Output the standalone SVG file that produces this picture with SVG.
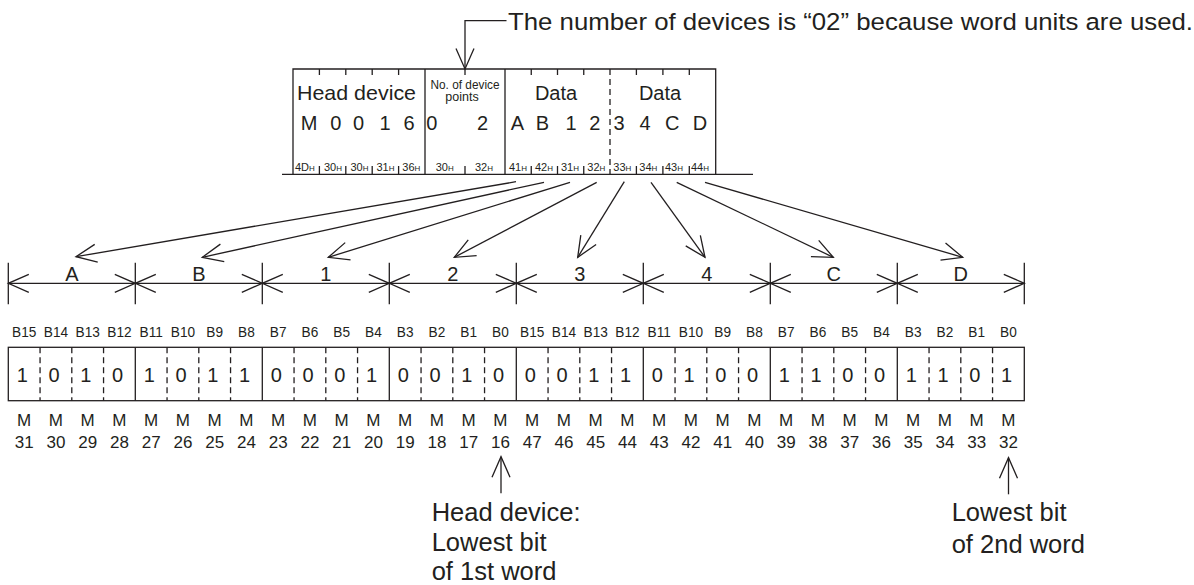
<svg xmlns="http://www.w3.org/2000/svg" width="1194" height="585" viewBox="0 0 1194 585">
<style>
.ln{stroke:#231f20;stroke-width:1.3;fill:none}
.dash{stroke-dasharray:6 4}
text{font-family:"Liberation Sans",Arial,Helvetica,sans-serif;fill:#231f20}
.t20{font-size:20px}
.hx{font-size:11px}
.hx tspan{font-size:8px}
.mid{text-anchor:middle}
.bl{font-size:15.5px;text-anchor:middle}
.dg{font-size:20px;text-anchor:middle}
.ml{font-size:17px;text-anchor:middle}
.note{font-size:25.5px}
</style>
<defs>
<marker id="ah" viewBox="-23 -11 25 22" refX="0" refY="0" markerWidth="25" markerHeight="22" markerUnits="userSpaceOnUse" orient="auto-start-reverse">
<path d="M-20.5,-9 L0,0 L-20.5,9" fill="none" stroke="#231f20" stroke-width="1.3"/>
</marker>
</defs>
<rect width="1194" height="585" fill="#ffffff"/>

<g id="annotation">
<text x="508" y="30" font-size="24.5" textLength="685" lengthAdjust="spacingAndGlyphs">The number of devices is “02” because word units are used.</text>
</g>

<g id="frame">
<line class="ln" x1="282" y1="174.3" x2="753" y2="174.3"/>
<path class="ln" d="M293,174.3V69H715.7V174.3M425,69V174.3M505,69V174.3"/>
<path class="ln dash" d="M610,69V174.3"/>
<path class="ln" d="M319.4,69v6M345.8,69v6M372.2,69v6M398.6,69v6M465,69v6M531.25,69v6M557.5,69v6M583.75,69v6M636.4,69v6M662.9,69v6M689.3,69v6"/>
<path class="ln" d="M319.4,166v8M345.8,166v8M372.2,166v8M398.6,166v8M465,166v8M531.25,166v8M557.5,166v8M583.75,166v8M636.4,166v8M662.9,166v8M689.3,166v8"/>
<text x="297" y="100" font-size="21" textLength="119" lengthAdjust="spacingAndGlyphs">Head device</text>
<text x="465" y="88.5" font-size="12.5" class="mid" textLength="69" lengthAdjust="spacingAndGlyphs">No. of device</text>
<text x="462" y="101" font-size="12.5" class="mid">points</text>
<text x="556" y="100" class="t20 mid">Data</text>
<text x="660" y="100" class="t20 mid">Data</text>
<g class="t20 mid">
<text x="309" y="130">M</text><text x="335.7" y="130">0</text><text x="358.5" y="130">0</text><text x="385" y="130">1</text><text x="409" y="130">6</text>
<text x="431.7" y="130">0</text><text x="482.5" y="130">2</text>
<text x="517.3" y="130">A</text><text x="542.3" y="130">B</text><text x="571" y="130">1</text><text x="594.7" y="130">2</text>
<text x="619" y="130">3</text><text x="645" y="130">4</text><text x="672.3" y="130">C</text><text x="700" y="130">D</text>
</g>
<g class="hx">
<text x="295" y="170.5">4D<tspan>H</tspan></text>
<text x="324" y="170.5">30<tspan>H</tspan></text>
<text x="350.5" y="170.5">30<tspan>H</tspan></text>
<text x="376.5" y="170.5">31<tspan>H</tspan></text>
<text x="402.3" y="170.5">36<tspan>H</tspan></text>
<text x="435.7" y="170.5">30<tspan>H</tspan></text>
<text x="475" y="170.5">32<tspan>H</tspan></text>
<text x="509" y="170.5">41<tspan>H</tspan></text>
<text x="535" y="170.5">42<tspan>H</tspan></text>
<text x="561" y="170.5">31<tspan>H</tspan></text>
<text x="587.3" y="170.5">32<tspan>H</tspan></text>
<text x="613.3" y="170.5">33<tspan>H</tspan></text>
<text x="639.3" y="170.5">34<tspan>H</tspan></text>
<text x="665" y="170.5">43<tspan>H</tspan></text>
<text x="691" y="170.5">44<tspan>H</tspan></text>
</g>
</g>

<g id="dimension">
<path class="ln" d="M8.3,262.7V304.3M135.3,262.7V304.3M262.3,262.7V304.3M389.3,262.7V304.3M516.3,262.7V304.3M643.3,262.7V304.3M770.3,262.7V304.3M897.3,262.7V304.3M1024.3,262.7V304.3"/>
<g class="ln" marker-start="url(#ah)" marker-end="url(#ah)">
<line x1="8.3" y1="283.3" x2="135.3" y2="283.3"/>
<line x1="135.3" y1="283.3" x2="262.3" y2="283.3"/>
<line x1="262.3" y1="283.3" x2="389.3" y2="283.3"/>
<line x1="389.3" y1="283.3" x2="516.3" y2="283.3"/>
<line x1="516.3" y1="283.3" x2="643.3" y2="283.3"/>
<line x1="643.3" y1="283.3" x2="770.3" y2="283.3"/>
<line x1="770.3" y1="283.3" x2="897.3" y2="283.3"/>
<line x1="897.3" y1="283.3" x2="1024.3" y2="283.3"/>
</g>
<g class="t20 mid">
<text x="71.8" y="280.7">A</text><text x="198.8" y="280.7">B</text><text x="325.8" y="280.7">1</text><text x="452.8" y="280.7">2</text>
<text x="579.8" y="280.7">3</text><text x="706.8" y="280.7">4</text><text x="833.8" y="280.7">C</text><text x="960.8" y="280.7">D</text>
</g>
</g>

<g id="bitlabels" transform="scale(0.88,1)" class="bl">
<text x="27.47" y="337.3">B15</text><text x="63.56" y="337.3">B14</text><text x="99.64" y="337.3">B13</text><text x="135.72" y="337.3">B12</text>
<text x="171.80" y="337.3">B11</text><text x="207.88" y="337.3">B10</text><text x="243.95" y="337.3">B9</text><text x="280.03" y="337.3">B8</text>
<text x="316.11" y="337.3">B7</text><text x="352.19" y="337.3">B6</text><text x="388.27" y="337.3">B5</text><text x="424.35" y="337.3">B4</text>
<text x="460.43" y="337.3">B3</text><text x="496.51" y="337.3">B2</text><text x="532.59" y="337.3">B1</text><text x="568.67" y="337.3">B0</text>
<text x="604.75" y="337.3">B15</text><text x="640.83" y="337.3">B14</text><text x="676.91" y="337.3">B13</text><text x="712.99" y="337.3">B12</text>
<text x="749.07" y="337.3">B11</text><text x="785.15" y="337.3">B10</text><text x="821.23" y="337.3">B9</text><text x="857.31" y="337.3">B8</text>
<text x="893.39" y="337.3">B7</text><text x="929.47" y="337.3">B6</text><text x="965.55" y="337.3">B5</text><text x="1001.63" y="337.3">B4</text>
<text x="1037.70" y="337.3">B3</text><text x="1073.78" y="337.3">B2</text><text x="1109.86" y="337.3">B1</text><text x="1145.94" y="337.3">B0</text>
</g>

<g id="bits">
<rect class="ln" x="8.3" y="347.3" width="1016" height="53.4"/>
<path class="ln" d="M135.3,347.3V400.7M262.3,347.3V400.7M389.3,347.3V400.7M516.3,347.3V400.7M643.3,347.3V400.7M770.3,347.3V400.7M897.3,347.3V400.7"/>
<path class="ln dash" d="M40.05,347.3V400.7M71.8,347.3V400.7M103.55,347.3V400.7M167.05,347.3V400.7M198.8,347.3V400.7M230.55,347.3V400.7M294.05,347.3V400.7M325.8,347.3V400.7M357.55,347.3V400.7M421.05,347.3V400.7M452.8,347.3V400.7M484.55,347.3V400.7M548.05,347.3V400.7M579.8,347.3V400.7M611.55,347.3V400.7M675.05,347.3V400.7M706.8,347.3V400.7M738.55,347.3V400.7M802.05,347.3V400.7M833.8,347.3V400.7M865.55,347.3V400.7M929.05,347.3V400.7M960.8,347.3V400.7M992.55,347.3V400.7"/>
<g class="dg">
<text x="22.4" y="381.5">1</text><text x="54.1" y="381.5">0</text><text x="85.9" y="381.5">1</text><text x="117.6" y="381.5">0</text>
<text x="149.4" y="381.5">1</text><text x="181.1" y="381.5">0</text><text x="212.9" y="381.5">1</text><text x="244.6" y="381.5">1</text>
<text x="276.4" y="381.5">0</text><text x="308.1" y="381.5">0</text><text x="339.9" y="381.5">0</text><text x="371.6" y="381.5">1</text>
<text x="403.4" y="381.5">0</text><text x="435.1" y="381.5">0</text><text x="466.9" y="381.5">1</text><text x="498.6" y="381.5">0</text>
<text x="530.4" y="381.5">0</text><text x="562.1" y="381.5">0</text><text x="593.9" y="381.5">1</text><text x="625.6" y="381.5">1</text>
<text x="657.4" y="381.5">0</text><text x="689.1" y="381.5">1</text><text x="720.9" y="381.5">0</text><text x="752.6" y="381.5">0</text>
<text x="784.4" y="381.5">1</text><text x="816.1" y="381.5">1</text><text x="847.9" y="381.5">0</text><text x="879.6" y="381.5">0</text>
<text x="911.4" y="381.5">1</text><text x="943.1" y="381.5">1</text><text x="974.9" y="381.5">0</text><text x="1006.6" y="381.5">1</text>
</g>
</g>

<g id="devices" class="ml">
<text x="24.18" y="425.7">M</text><text x="55.93" y="425.7">M</text><text x="87.68" y="425.7">M</text><text x="119.43" y="425.7">M</text>
<text x="151.18" y="425.7">M</text><text x="182.93" y="425.7">M</text><text x="214.68" y="425.7">M</text><text x="246.43" y="425.7">M</text>
<text x="278.18" y="425.7">M</text><text x="309.93" y="425.7">M</text><text x="341.68" y="425.7">M</text><text x="373.43" y="425.7">M</text>
<text x="405.18" y="425.7">M</text><text x="436.93" y="425.7">M</text><text x="468.68" y="425.7">M</text><text x="500.43" y="425.7">M</text>
<text x="532.18" y="425.7">M</text><text x="563.93" y="425.7">M</text><text x="595.68" y="425.7">M</text><text x="627.43" y="425.7">M</text>
<text x="659.18" y="425.7">M</text><text x="690.93" y="425.7">M</text><text x="722.68" y="425.7">M</text><text x="754.43" y="425.7">M</text>
<text x="786.18" y="425.7">M</text><text x="817.93" y="425.7">M</text><text x="849.68" y="425.7">M</text><text x="881.43" y="425.7">M</text>
<text x="913.18" y="425.7">M</text><text x="944.93" y="425.7">M</text><text x="976.68" y="425.7">M</text><text x="1008.43" y="425.7">M</text>
<text x="24.18" y="448.3">31</text><text x="55.93" y="448.3">30</text><text x="87.68" y="448.3">29</text><text x="119.43" y="448.3">28</text>
<text x="151.18" y="448.3">27</text><text x="182.93" y="448.3">26</text><text x="214.68" y="448.3">25</text><text x="246.43" y="448.3">24</text>
<text x="278.18" y="448.3">23</text><text x="309.93" y="448.3">22</text><text x="341.68" y="448.3">21</text><text x="373.43" y="448.3">20</text>
<text x="405.18" y="448.3">19</text><text x="436.93" y="448.3">18</text><text x="468.68" y="448.3">17</text><text x="500.43" y="448.3">16</text>
<text x="532.18" y="448.3">47</text><text x="563.93" y="448.3">46</text><text x="595.68" y="448.3">45</text><text x="627.43" y="448.3">44</text>
<text x="659.18" y="448.3">43</text><text x="690.93" y="448.3">42</text><text x="722.68" y="448.3">41</text><text x="754.43" y="448.3">40</text>
<text x="786.18" y="448.3">39</text><text x="817.93" y="448.3">38</text><text x="849.68" y="448.3">37</text><text x="881.43" y="448.3">36</text>
<text x="913.18" y="448.3">35</text><text x="944.93" y="448.3">34</text><text x="976.68" y="448.3">33</text><text x="1008.43" y="448.3">32</text>
</g>

<g id="note1" class="note">
<text x="431.7" y="520.5">Head device:</text>
<text x="431.7" y="550.5">Lowest bit</text>
<text x="431.7" y="579.5">of 1st word</text>
</g>
<g id="note2" class="note">
<text x="951.7" y="521.2">Lowest bit</text>
<text x="951.7" y="552.5">of 2nd word</text>
</g>

<g id="connectors" class="ln" marker-end="url(#ah)">
<path d="M506.5,20.7H465V69"/>
<path d="M516,181.7L76,256.7"/>
<path d="M544,182.3L202.3,257.3"/>
<path d="M570,182.3L328.3,257.3"/>
<path d="M596.7,182.3L454.3,257.3"/>
<path d="M624.3,181.7L577.7,257.3"/>
<path d="M651,182.3L705,257.3"/>
<path d="M676.7,182.3L833.3,257.3"/>
<path d="M705,182.3L962.7,257.3"/>
<path d="M501,493.3V456.7"/>
<path d="M1008.5,494.3V457.7"/>
</g>
</svg>
